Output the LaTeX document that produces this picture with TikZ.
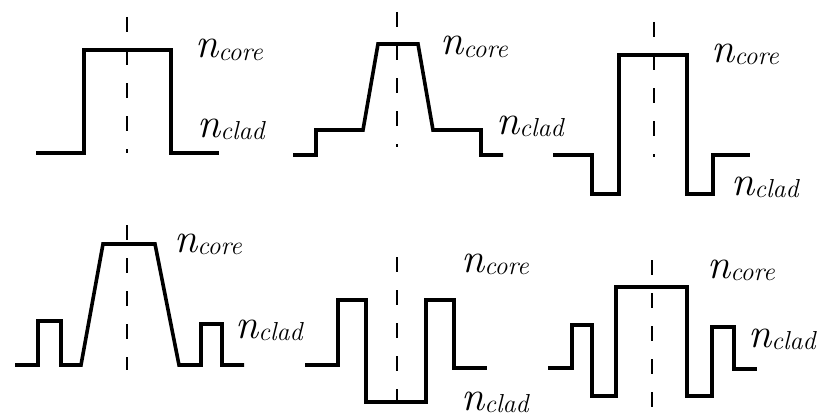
\documentclass[tikz,border=0pt]{standalone}
\newcommand\nlab[1]{{\fontsize{42}{46}\selectfont\itshape n}\raisebox{-2pt}{\fontsize{26}{30}\selectfont\itshape #1}}
\begin{document}
\begin{tikzpicture}[x=1pt,y=-1pt,
  profile/.style={line width=3.6pt,line join=miter},
  axis/.style={line width=1.3pt,dash pattern=on 15pt off 18pt},
  lbl/.style={anchor=base west,inner sep=0pt}]
\useasboundingbox (0,0) rectangle (824,420);
% panel 1
\draw[profile] (36,153) -- (84,153) -- (84,50) -- (171,50) -- (171,153) -- (219,153);
\draw[axis] (127,17) -- (127,153);
\node[lbl] (c1) at (195,58) {\nlab{core}};
\node[lbl] (d1) at (197,137) {\nlab{clad}};
% panel 2
\draw[profile] (293,155) -- (316,155) -- (316,130) -- (363,130) -- (378,44) -- (418,44) -- (433,130) -- (481,130) -- (481,155) -- (503,155);
\draw[axis] (397,12) -- (397,147);
\node[lbl] (c2) at (440,55) {\nlab{core}};
\node[lbl] (d2) at (496,134) {\nlab{clad}};
% panel 3
\draw[profile] (553,155) -- (592,155) -- (592,194) -- (619,194) -- (619,55) -- (687,55) -- (687,194) -- (713,194) -- (713,155) -- (750,155);
\draw[axis] (654,22) -- (654,157);
\node[lbl] (c3) at (711,63) {\nlab{core}};
\node[lbl] (d3) at (731,195) {\nlab{clad}};
% panel 4
\draw[profile] (15,365) -- (38,365) -- (38,321) -- (61,321) -- (61,365) -- (81,365) -- (103,244) -- (155,244) -- (179,365) -- (201,365) -- (201,324) -- (222,324) -- (222,365) -- (244,365);
\draw[axis] (127,225) -- (127,370);
\node[lbl] (c4) at (174,252) {\nlab{core}};
\node[lbl] (d4) at (235,338) {\nlab{clad}};
% panel 5
\draw[profile] (305,365) -- (338,365) -- (338,300) -- (366,300) -- (366,402) -- (426,402) -- (426,300) -- (454,300) -- (454,368) -- (487,368);
\draw[axis] (397,257) -- (397,410);
\node[lbl] (c5) at (461,272) {\nlab{core}};
\node[lbl] (d5) at (461,410) {\nlab{clad}};
% panel 6
\draw[profile] (548,368) -- (572,368) -- (572,325) -- (592,325) -- (592,396) -- (616,396) -- (616,287) -- (687,287) -- (687,396) -- (712,396) -- (712,327) -- (734,327) -- (734,369) -- (757,369);
\draw[axis] (652,260) -- (652,420);
\node[lbl] (c6) at (707,278) {\nlab{core}};
\node[lbl] (d6) at (748,347) {\nlab{clad}};
\end{tikzpicture}
\end{document}
